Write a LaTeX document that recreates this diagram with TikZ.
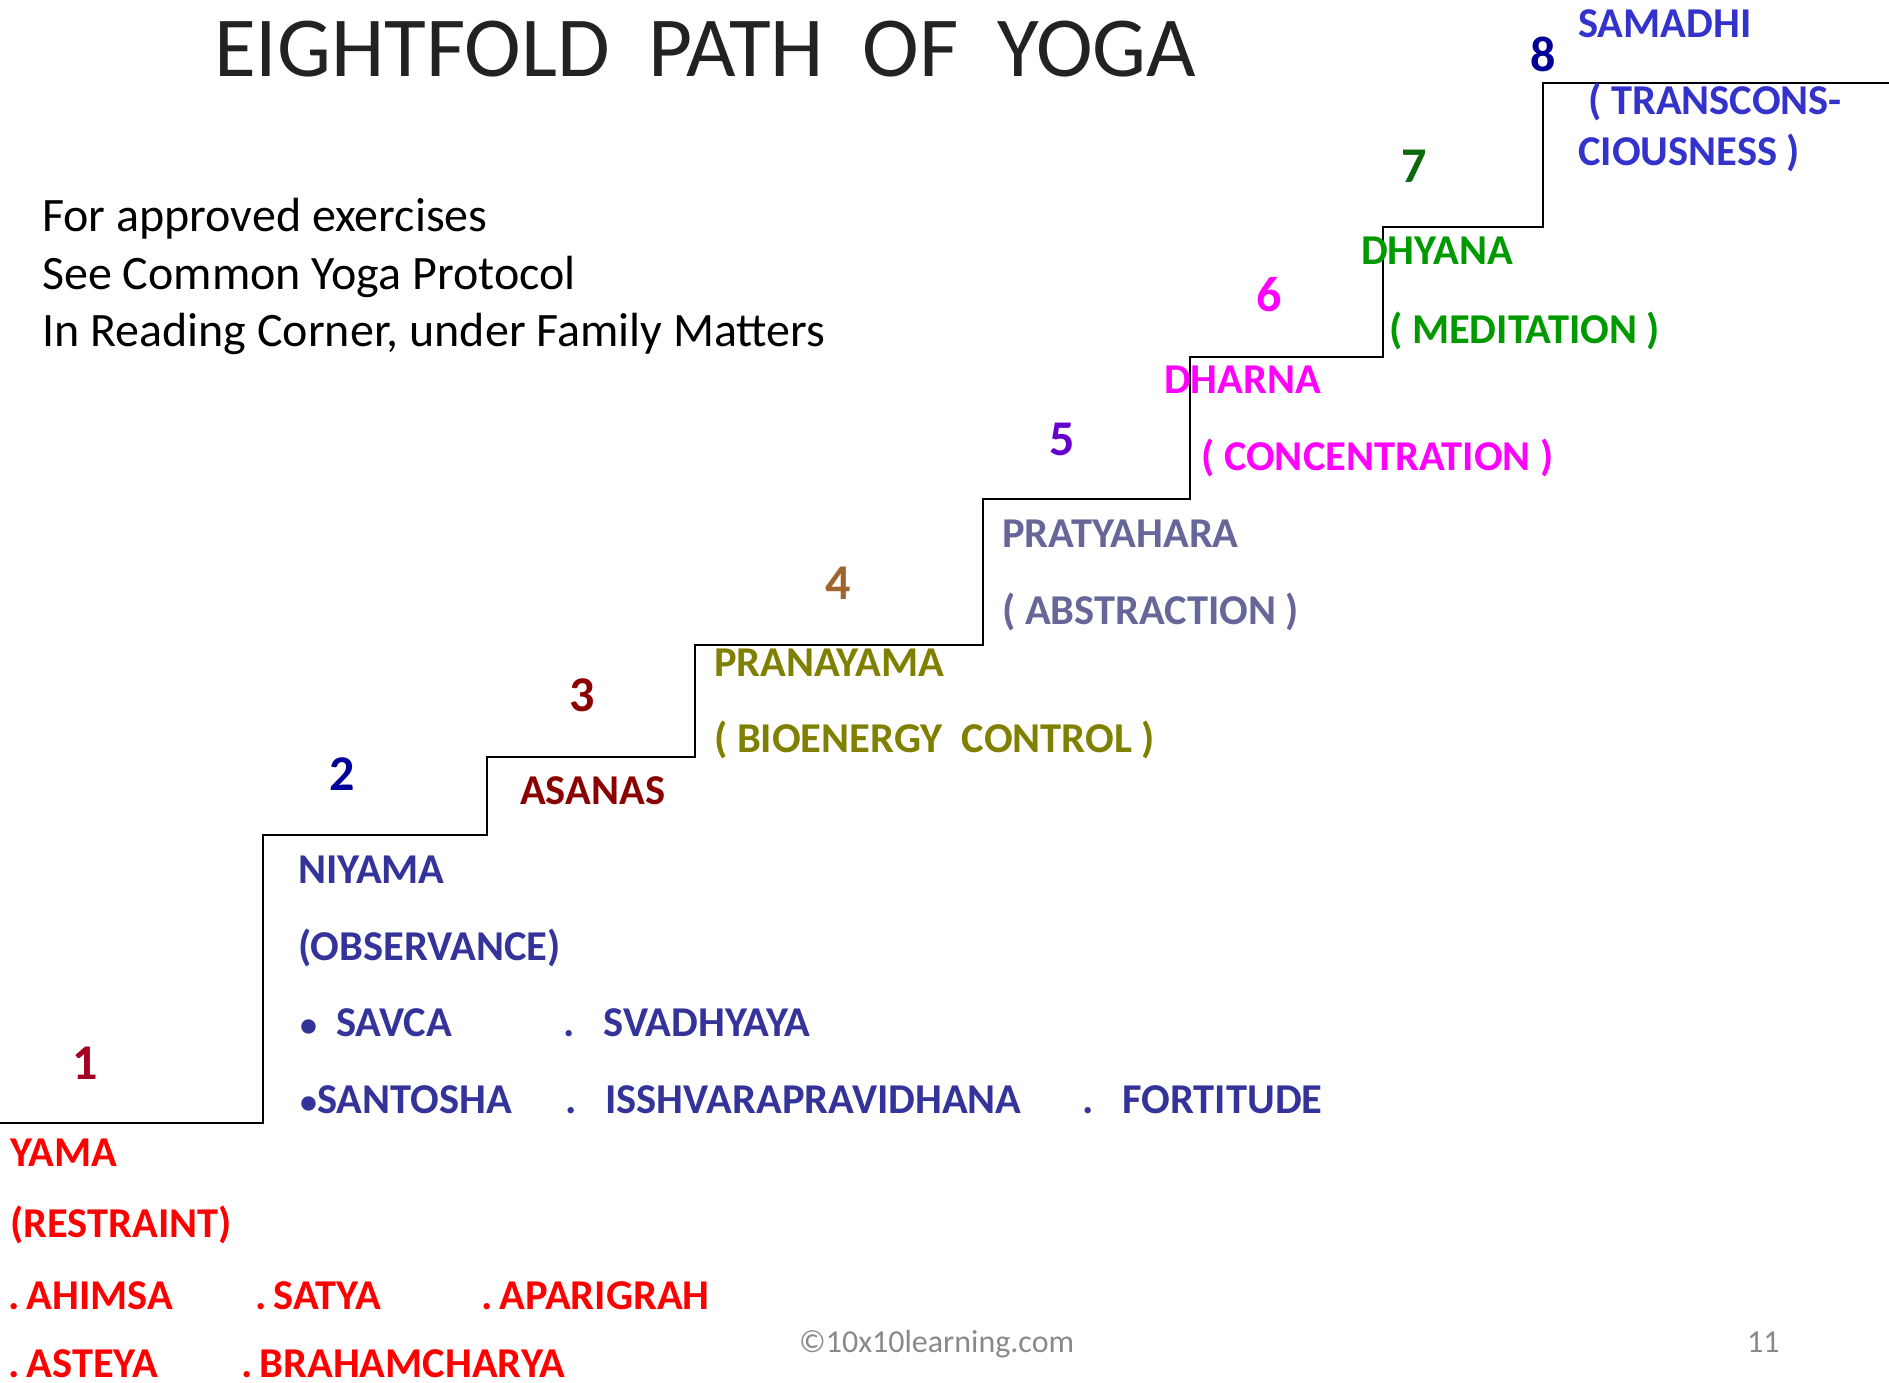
\documentclass[tikz,border=0pt]{standalone}
\usepackage{fontspec}
\setmainfont{Carlito}
\usepackage{tikz}
\usetikzlibrary{positioning}
\definecolor{samadhiC}{HTML}{3333CC}
\definecolor{eightC}{HTML}{000099}
\definecolor{sevenC}{HTML}{0A690A}
\definecolor{dhyanaC}{HTML}{009A00}
\definecolor{dharnaC}{HTML}{FF00FF}
\definecolor{fiveC}{HTML}{6600CC}
\definecolor{pratyC}{HTML}{666699}
\definecolor{fourC}{HTML}{A0652E}
\definecolor{pranaC}{HTML}{808000}
\definecolor{asanaC}{HTML}{8B0000}
\definecolor{twoC}{HTML}{000099}
\definecolor{niyamaC}{HTML}{333399}
\definecolor{oneC}{HTML}{A50021}
\definecolor{yamaC}{HTML}{FF0000}
\definecolor{footC}{HTML}{898989}
\definecolor{titleC}{HTML}{222222}
\newcommand{\smallbul}{{\fontsize{34}{40}\selectfont\textbullet}}
\tikzset{
    lbl/.style = {anchor=base west, inner sep=0pt, font=\fontsize{42.5}{50}\selectfont\bfseries},
    num/.style = {anchor=base west, inner sep=0pt, font=\fontsize{50}{60}\selectfont\bfseries},
    note/.style = {anchor=base west, inner sep=0pt, font=\fontsize{48}{56}\selectfont},
    foot/.style = {anchor=base west, inner sep=0pt, text=footC, font=\fontsize{32}{38}\selectfont},
    stair/.style = {line width=2.2pt, black},
}

\begin{document}
\begin{tikzpicture}[x=1pt, y=-1pt]

\useasboundingbox (0,0) rectangle (1889,1383);

% staircase
\draw[stair] (0,1123) -| (263,835) -| (487,757) -| (695,645) -| (983,499) -| (1190,357) -| (1383,227) -| (1543,83) -- (1889,83);

% title and note
\node[anchor=base west, inner sep=0pt, text=titleC, font=\fontsize{85.5}{100}\selectfont] (title) at (214,77) {EIGHTFOLD\ \ PATH\ \ OF\ \ YOGA};
\node[note] (noteA) at (42,231) {For approved exercises};
\node[note] (noteB) at (42,289) {See Common Yoga Protocol};
\node[note] (noteC) at (42,346) {In Reading Corner, under Family Matters};

% step 8
\node[num, text=eightC] (n8) at (1530,72) {8};
\node[lbl, text=samadhiC] (samadhi) at (1578,38) {SAMADHI};
\node[lbl, text=samadhiC] (samadhiA) at (1588,115) {( TRANSCONS-};
\node[lbl, text=samadhiC] (samadhiB) at (1578,166) {CIOUSNESS )};

% step 7
\node[num, text=sevenC] (n7) at (1401,183) {7};
\node[lbl, text=dhyanaC] (dhyana) at (1361,264) {DHYANA};
\node[lbl, text=dhyanaC] (dhyanaA) at (1389,343) {( MEDITATION )};

% step 6
\node[num, text=dharnaC] (n6) at (1256,311) {6};
\node[lbl, text=dharnaC] (dharna) at (1164,393) {DHARNA};
\node[lbl, text=dharnaC] (dharnaA) at (1201,470) {( CONCENTRATION )};

% step 5
\node[num, text=fiveC] (n5) at (1049,455) {5};
\node[lbl, text=pratyC] (pratya) at (1002,547) {PRATYAHARA};
\node[lbl, text=pratyC] (pratyA) at (1002,624) {( ABSTRACTION )};

% step 4
\node[num, text=fourC] (n4) at (825,599) {4};
\node[lbl, text=pranaC] (prana) at (714,676) {PRANAYAMA};
\node[lbl, text=pranaC] (pranaA) at (714,752) {( BIOENERGY\ \ CONTROL )};

% step 3
\node[num, text=asanaC] (n3) at (569,711) {3};
\node[lbl, text=asanaC] (asana) at (520,804) {ASANAS};

% step 2
\node[num, text=twoC] (n2) at (329,790) {2};
\node[lbl, text=niyamaC] (niyama) at (298,883) {NIYAMA};
\node[lbl, text=niyamaC] (niyamaA) at (298,960) {(OBSERVANCE)};
\node[lbl, text=niyamaC] (savca) at (300,1036) {\smallbul\ \ SAVCA};
\node[lbl, text=niyamaC] (svadh) at (563,1036) {.\ \ \ SVADHYAYA};
\node[lbl, text=niyamaC] (santo) at (300,1113) {\smallbul SANTOSHA};
\node[lbl, text=niyamaC] (isshv) at (565,1113) {.\ \ \ ISSHVARAPRAVIDHANA};
\node[lbl, text=niyamaC] (forti) at (1082,1113) {.\ \ \ FORTITUDE};

% step 1
\node[num, text=oneC] (n1) at (72,1079) {1};
\node[lbl, text=yamaC] (yama) at (10,1166) {YAMA};
\node[lbl, text=yamaC] (yamaA) at (10,1237) {(RESTRAINT)};
\node[lbl, text=yamaC] (ahimsa) at (8,1309) {.\,AHIMSA};
\node[lbl, text=yamaC] (satya) at (255,1309) {.\,SATYA};
\node[lbl, text=yamaC] (apari) at (481,1309) {.\,APARIGRAH};
\node[lbl, text=yamaC] (asteya) at (8,1377) {.\,ASTEYA};
\node[lbl, text=yamaC] (brahma) at (241,1377) {.\,BRAHAMCHARYA};

% footer
\node[foot] (footer) at (799,1352) {\textcopyright 10x10learning.com};
\node[foot] (page) at (1747,1352) {11};

\end{tikzpicture}
\end{document}
